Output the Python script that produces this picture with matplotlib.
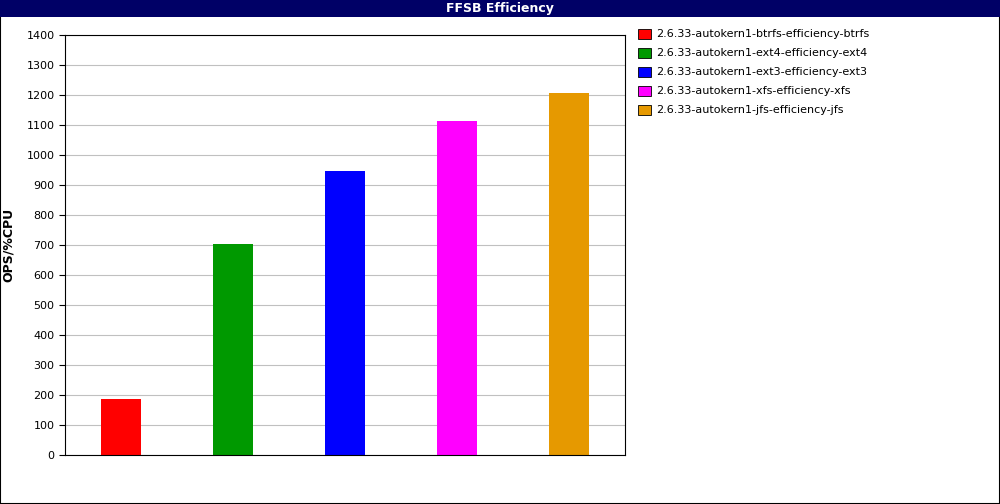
import matplotlib
matplotlib.use("Agg")
import matplotlib.pyplot as plt
from matplotlib.patches import Rectangle

labels = ["2.6.33-autokern1-btrfs-efficiency-btrfs",
          "2.6.33-autokern1-ext4-efficiency-ext4",
          "2.6.33-autokern1-ext3-efficiency-ext3",
          "2.6.33-autokern1-xfs-efficiency-xfs",
          "2.6.33-autokern1-jfs-efficiency-jfs"]
values = [187, 705, 947, 1115, 1207]
colors = ["#ff0000", "#009900", "#0000ff", "#ff00ff", "#e69900"]
yticks = list(range(0, 1401, 100))

W, H = 1000, 504
fig = plt.figure(figsize=(W/100, H/100), dpi=100)
fig.patch.set_facecolor("white")
# border
fig.add_artist(Rectangle((0, 0), 1, 1, transform=fig.transFigure, fill=False, edgecolor="black", lw=1.5))
# title bar
fig.add_artist(Rectangle((0, 1-17/H), 1, 17/H, transform=fig.transFigure, facecolor="#000066", edgecolor="none"))
fig.text(0.5, 1-8.5/H, "FFSB Efficiency", color="white", ha="center", va="center", fontsize=9, fontweight="bold")

ax = fig.add_axes([65/W, 1-455/H, 560/W, 420/H])
ax.bar([i+0.5 for i in range(len(values))], values, width=40/112, color=colors)
ax.set_xlim(0, 5)
ax.set_ylim(0, 1400)
ax.set_yticks(yticks)
ax.set_xticks([])
ax.tick_params(axis="y", labelsize=8, length=4)
ax.yaxis.grid(True, color="#c0c0c0", lw=0.8)
ax.set_axisbelow(True)
for s in ax.spines.values():
    s.set_linewidth(0.8)
ax.set_ylabel("OPS/%CPU", fontsize=9, fontweight="bold", labelpad=8)

for i, (lab, c) in enumerate(zip(labels, colors)):
    y = 34 + 19*i
    fig.add_artist(Rectangle((638/W, 1-(y+5)/H), 13/W, 10/H, transform=fig.transFigure,
                             facecolor=c, edgecolor="black", lw=0.6))
    fig.text(656/W, 1-y/H, lab, fontsize=8, va="center", ha="left")

fig.savefig("out.png", dpi=100)
